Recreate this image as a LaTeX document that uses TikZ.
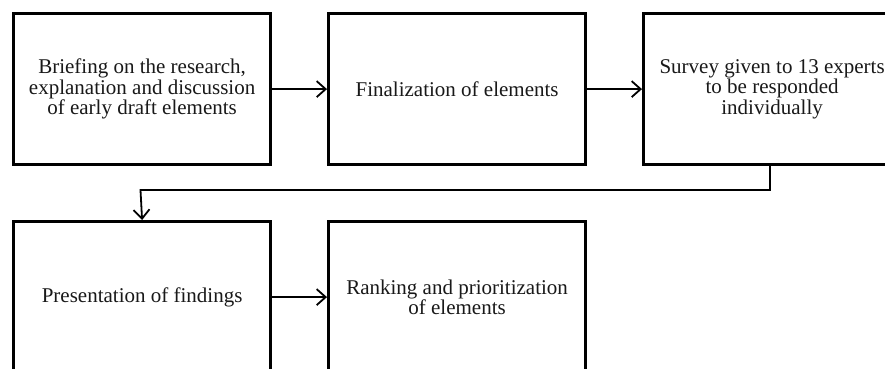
\documentclass[tikz,border=0pt]{standalone}
\usepackage{fontspec}
\setmainfont{Liberation Serif}
\usetikzlibrary{arrows.meta}
\begin{document}
\begin{tikzpicture}[x=1pt,y=-1pt,
  stepbox/.style={draw=black, line width=3.2pt, minimum width=257pt, minimum height=151pt,
    inner sep=0pt, anchor=north west, align=center,
    font=\fontsize{21}{20.5}\selectfont, text=black!90},
  conn/.style={line width=1.8pt, -{Straight Barb[length=9pt,width=16pt,line width=1.8pt]}}]
\useasboundingbox (0,0) rectangle (885,368);
\clip (0,0) rectangle (885,368);
\fill[white] (0,0) rectangle (885,368);
\node[stepbox] (b1) at (12,12) {Briefing on the research,\\explanation and discussion\\of early draft elements};
\node[stepbox] (b2) at (327,12) {Finalization of elements};
\node[stepbox] (b3) at (642,12) {Survey given to 13 experts\\to be responded\\individually};
\node[stepbox] (b4) at (12,220) {Presentation of findings};
\node[stepbox] (b5) at (327,220) {Ranking and prioritization\\of elements};
\coordinate (c1) at (770,190);
\coordinate (c2) at (140.5,190);
\draw[conn] (b1.east) -- (b2.west);
\draw[conn] (b2.east) -- (b3.west);
\draw[conn] (b4.east) -- (b5.west);
\draw[conn] (b3.south -| c1) -- (c1) -- (c2) -- (b4.north);
\end{tikzpicture}
\end{document}
